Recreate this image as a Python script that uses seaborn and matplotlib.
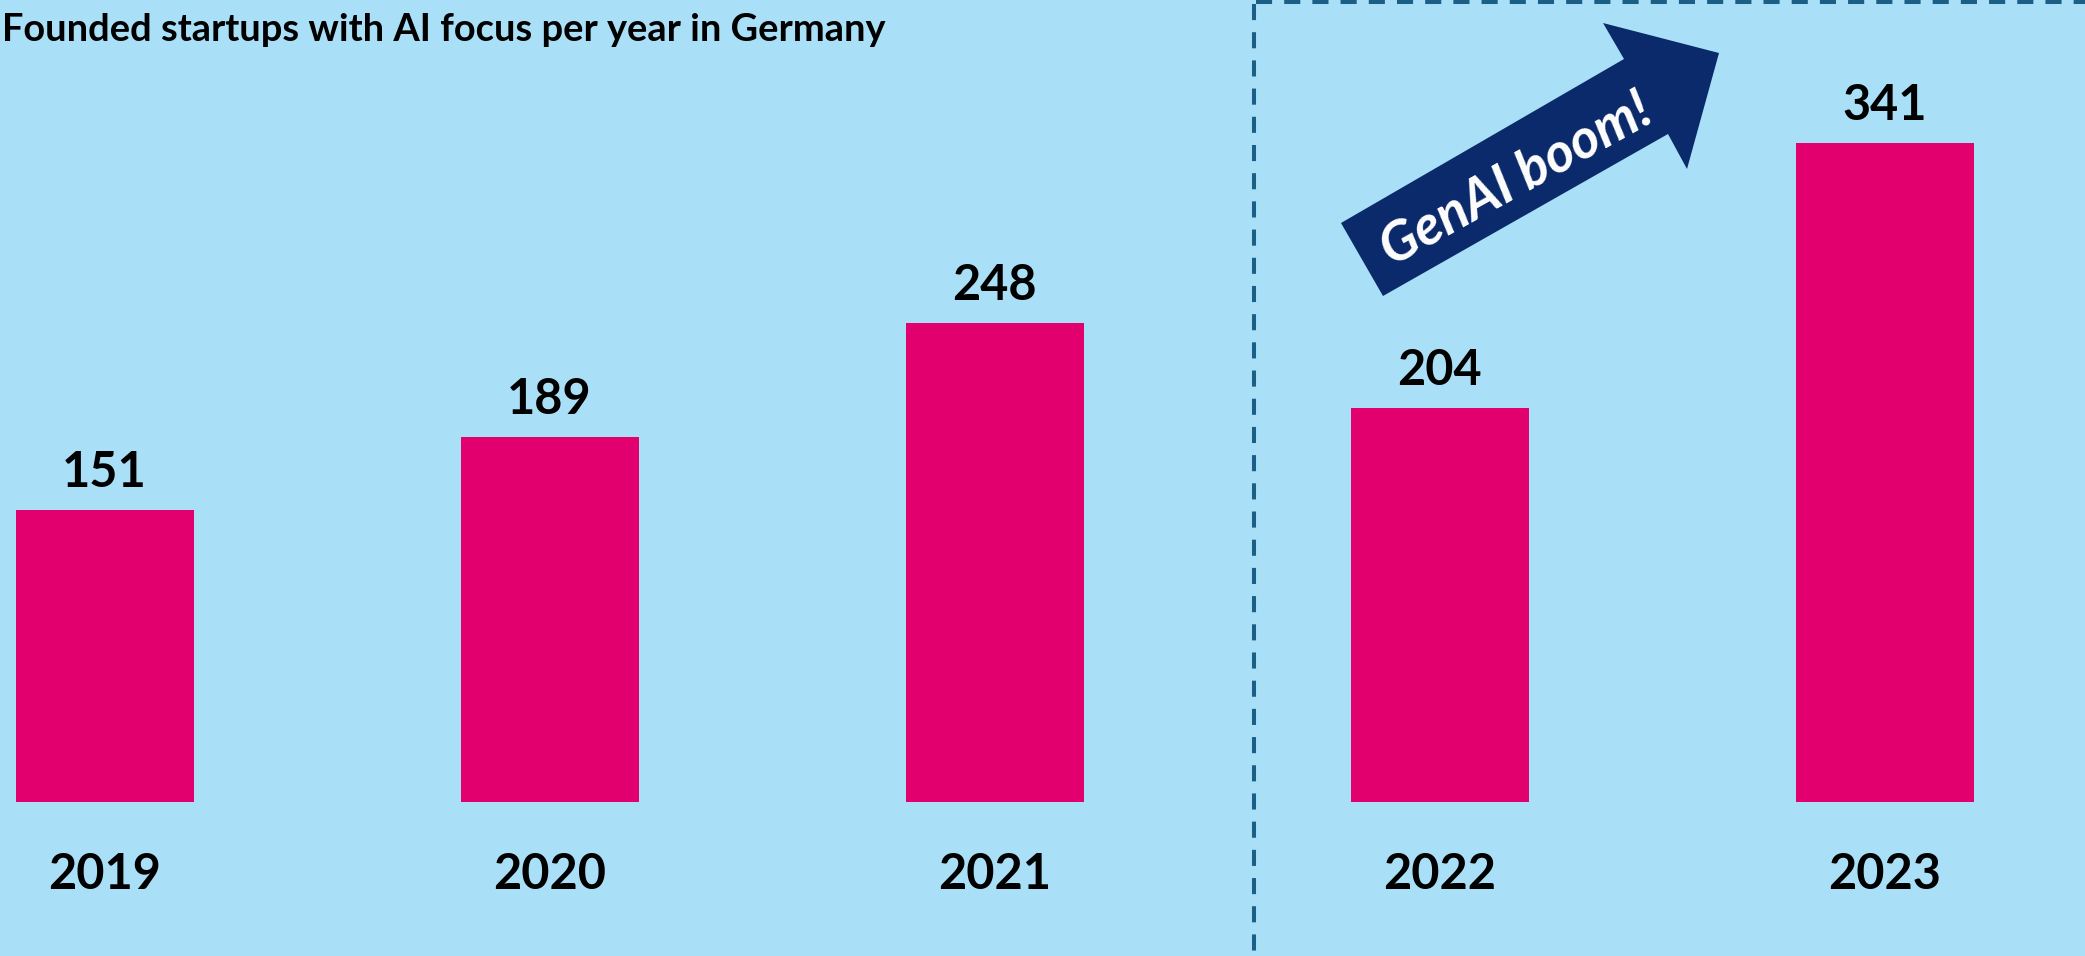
import matplotlib
matplotlib.use("Agg")
import matplotlib.pyplot as plt
from matplotlib.lines import Line2D
from matplotlib.patches import Polygon
import seaborn as sns
import pandas as pd

years = ["2019", "2020", "2021", "2022", "2023"]
startups = [151, 189, 248, 204, 341]
title = "Founded startups with AI focus per year in Germany"
arrow_text = "GenAI boom!"

BG = "#a9e0f7"
BAR = "#e2006f"
NAVY = "#0b2a6b"
DASH = "#1b5f86"

W, H = 2085, 956
sns.set_style("white")
plt.rcParams["font.family"] = ["Lato", "DejaVu Sans"]
plt.rcParams["text.color"] = "black"
plt.rcParams["xtick.color"] = "black"

fig = plt.figure(figsize=(W / 100, H / 100), dpi=100, facecolor=BG)
# axes bottom sits on the bar baseline
ax = fig.add_axes([0, 154 / H, 1, 802 / H])
ax.set_facecolor(BG)

df = pd.DataFrame({"year": years, "startups": startups})
sns.barplot(data=df, x="year", y="startups", color=BAR, width=0.4,
            saturation=1, linewidth=0, ax=ax)

ax.set_xlim(-104.5 / 445, (W - 104.5) / 445)
ax.set_ylim(0, 802 / 1.932)
ax.bar_label(ax.containers[0], fontsize=35, fontweight="bold", padding=11,
             color="black")

ax.set_xlabel("")
ax.set_ylabel("")
ax.set_yticks([])
ax.tick_params(axis="x", length=0, pad=36, labelsize=35, labelcolor="black")
for lab in ax.get_xticklabels():
    lab.set_fontweight("bold")
for s in ax.spines.values():
    s.set_visible(False)

fig.text(2 / W, 1 - 41 / H, title, ha="left", va="baseline",
         fontsize=27.4, fontweight="bold")

# dashed frame around the GenAI years
def px(x, y):
    return x / W, 1 - y / H

for (x0, y0), (x1, y1) in [((1254, 4), (1254, H)), ((1256, 2), (W, 2))]:
    a, b = px(x0, y0), px(x1, y1)
    fig.add_artist(Line2D([a[0], b[0]], [a[1], b[1]], color=DASH, lw=2.9,
                          linestyle=(0, (4, 3)), dash_capstyle="butt",
                          transform=fig.transFigure))

# "GenAI boom!" arrow
verts = [(1383, 296), (1341, 223), (1624, 59), (1603, 23), (1719, 53),
         (1687, 169), (1668, 134)]
fig.add_artist(Polygon([px(x, y) for x, y in verts], closed=True,
                       facecolor=NAVY, edgecolor="none",
                       transform=fig.transFigure))
fig.text(*px(1516, 180), arrow_text, rotation=29, ha="center", va="center",
         rotation_mode="anchor", color="white", fontsize=39.5,
         fontweight="bold", fontstyle="italic")

fig.savefig("out.png", dpi=100, facecolor=BG)
